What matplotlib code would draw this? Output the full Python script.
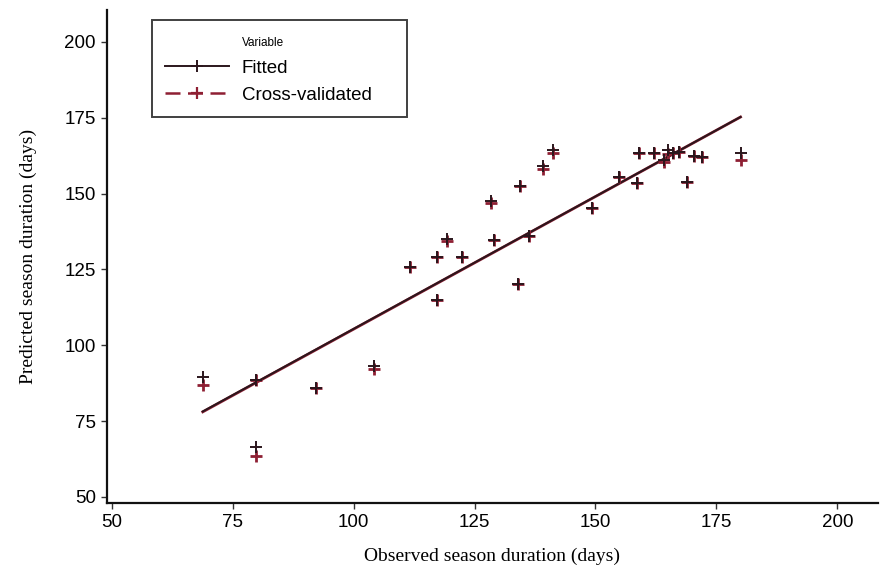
import matplotlib
matplotlib.use("Agg")
import matplotlib.pyplot as plt
from matplotlib.lines import Line2D
import numpy as np

# ---- data ----
observed = [68.8, 79.8, 79.8, 92.2, 104.2, 111.6, 117.3, 117.3, 119.4, 122.5,
            128.5, 129.0, 134.0, 134.3, 136.2, 139.1, 141.2, 149.3, 154.8, 158.6,
            159.0, 162.2, 164.1, 165.0, 166.1, 167.2, 168.9, 170.3, 172.1, 180.0]
fitted = [89.5, 88.6, 66.5, 85.8, 93.3, 125.9, 129.0, 115.0, 135.0, 129.0,
          147.6, 134.7, 120.1, 152.6, 136.0, 159.0, 164.5, 145.2, 155.4, 153.4,
          163.5, 163.5, 161.1, 164.2, 163.3, 163.8, 153.8, 162.4, 162.2, 163.5]
cross_validated = [87.0, 88.6, 63.5, 85.8, 92.3, 125.9, 129.0, 115.0, 134.3, 129.0,
                   147.0, 134.7, 120.1, 152.6, 136.0, 158.0, 163.5, 145.2, 155.4, 153.4,
                   163.5, 163.5, 160.5, 163.0, 163.3, 163.8, 153.8, 162.4, 162.2, 161.1]
fit_intercept, fit_slope = 18.1, 0.873
cv_intercept, cv_slope = 17.9, 0.874
x_ticks = [50, 75, 100, 125, 150, 175, 200]
y_ticks = [50, 75, 100, 125, 150, 175, 200]

fit_color = "#2b161c"
cv_color = "#8e1f33"

fig = plt.figure(figsize=(8.8, 5.8), dpi=100)
ax = fig.add_axes([0.1216, 0.1328, 0.876, 0.850])

obs = np.array(observed)
xl = np.array([obs.min(), obs.max()])
ax.plot(xl, cv_intercept + cv_slope * xl, color=cv_color, lw=2.0, zorder=2)
ax.plot(xl, fit_intercept + fit_slope * xl, color=fit_color, lw=1.4, zorder=3)

ax.plot(observed, cross_validated, ls="none", marker="+", ms=8, mew=2.0,
        color=cv_color, zorder=4)
ax.plot(observed, fitted, ls="none", marker="+", ms=8, mew=1.4,
        color=fit_color, zorder=5)

ax.set_xlim(49.0, 208.4)
ax.set_ylim(48.0, 210.5)
ax.set_xticks(x_ticks)
ax.set_yticks(y_ticks)

for s in ["top", "right"]:
    ax.spines[s].set_visible(False)
for s in ["left", "bottom"]:
    ax.spines[s].set_linewidth(1.6)
    ax.spines[s].set_color("#111111")

tick_font = ["Liberation Sans", "DejaVu Sans"]
ax.tick_params(axis="both", direction="out", length=4, width=1.0, color="#333333",
               labelsize=13.5, pad=4)
for lab in ax.get_xticklabels() + ax.get_yticklabels():
    lab.set_family(tick_font)

label_font = ["Liberation Serif", "DejaVu Serif"]
ax.set_xlabel("Observed season duration (days)", family=label_font, fontsize=14, labelpad=12)
ax.set_ylabel("Predicted season duration (days)", family=label_font, fontsize=14, labelpad=20)

handles = [
    Line2D([], [], ls="none", marker="none"),
    Line2D([], [], color=fit_color, lw=1.4, marker="+", ms=8, mew=1.4),
    Line2D([], [], color=cv_color, lw=1.8, ls=(0, (6, 3)), marker="+", ms=8, mew=1.6),
]
labels = ["Variable", "Fitted", "Cross-validated"]
leg = ax.legend(handles, labels, loc="upper left",
                bbox_to_anchor=(0.058, 0.98, 0.331, 0.0), mode="expand",
                borderaxespad=0.0,
                frameon=True, fancybox=False, edgecolor="#111111",
                handlelength=3.4, handletextpad=0.7, labelspacing=0.55,
                borderpad=0.7, prop={"family": tick_font, "size": 13.5})
leg.get_frame().set_linewidth(1.4)
leg.get_texts()[0].set_fontsize(8.5)

fig.savefig("out.png", dpi=100)
